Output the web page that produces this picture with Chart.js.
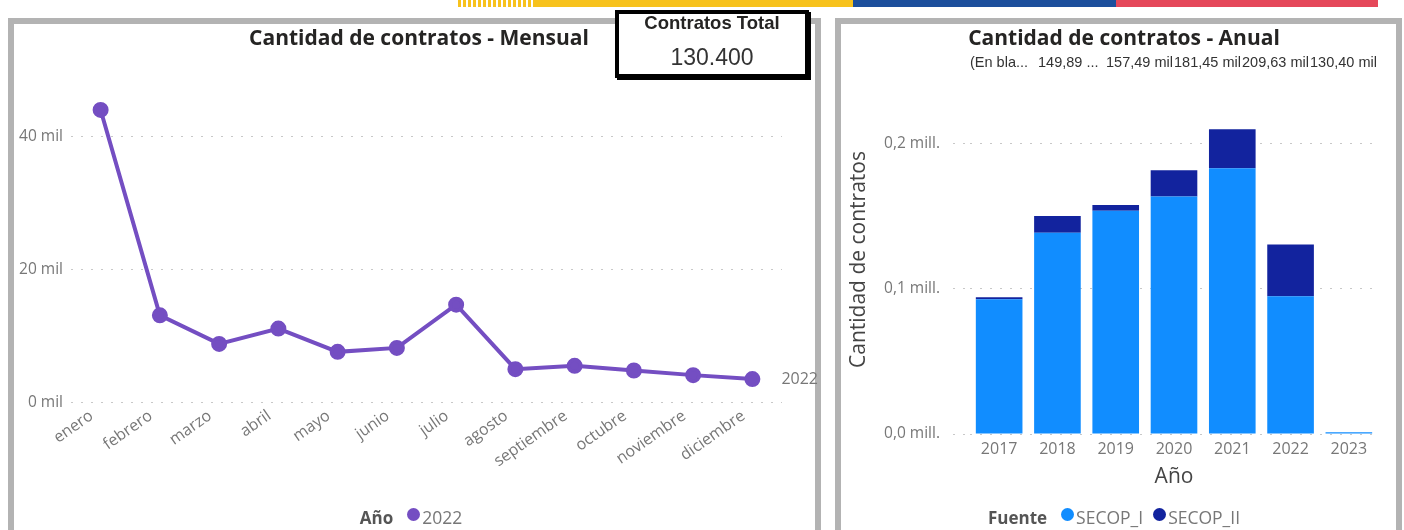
<!DOCTYPE html>
<html>
<head>
<meta charset="utf-8">
<script src="https://cdn.jsdelivr.net/npm/chart.js@4.4.0/dist/chart.umd.min.js"></script>
<style>
  body { margin: 0; width: 1404px; height: 530px; background: #fff; overflow: hidden; position: relative; font-family: 'Open Sans', sans-serif; }
  .bar { position: absolute; top: 0; height: 7px; }
  .panel { position: absolute; top: 18px; height: 530px; border: 6px solid #b3b3b3; border-bottom: none; box-sizing: border-box; }
  .card { position: absolute; left: 615px; top: 10px; width: 186px; height: 60px; border: 4px solid #000; box-shadow: 2px 2px 0 #000; background: #fff; text-align: center; font-family: 'Liberation Sans', Arial, sans-serif; color: #252423; }
  .card .t { font-weight: bold; font-size: 18.5px; margin-top: -2px; }
  .card .v { font-size: 23px; margin-top: 10px; color: #333; }
  .title { position: absolute; top: 23px; width: 500px; text-align: center; font-size: 21px; font-weight: bold; color: #252423; line-height: 28px; }
  canvas { position: absolute; }
  .legend { position: absolute; top: 506px; height: 22px; display: flex; justify-content: center; align-items: center; font-size: 17.5px; color: #777; }
  .legend b { color: #555; margin-right: 14px; font-size: 17px; }
  .legend i { display: inline-block; width: 13px; height: 13px; border-radius: 50%; margin-right: 2px; position: relative; top: -3px; }
  .legend span { margin-right: 10px; }
</style>
</head>
<body>
<div class="bar" style="left:458px;width:77px;background:repeating-linear-gradient(90deg,#f7c21d 0 3px,#fff 3px 5px);"></div>
<div class="bar" style="left:535px;width:318px;background:#f7c21d;"></div>
<div class="bar" style="left:853px;width:263px;background:#1c4f9c;"></div>
<div class="bar" style="left:1116px;width:262px;background:#e5485a;"></div>

<div class="panel" style="left:8px;width:813px;"></div>
<div class="panel" style="left:835px;width:567px;"></div>

<canvas id="mensual" width="804" height="507" style="left:14px;top:23px;"></canvas>
<canvas id="anual" width="556" height="507" style="left:841px;top:23px;"></canvas>

<div class="title" style="left:169px;">Cantidad de contratos - Mensual</div>
<div class="title" style="left:874px;">Cantidad de contratos - Anual</div>

<div class="legend" style="left:14px;width:804px;"><b>Año</b><i style="background:#744ec2"></i><span>2022</span></div>
<div class="legend" style="left:841px;width:556px;"><b>Fuente</b><i style="background:#118dff"></i><span>SECOP_I</span><i style="background:#12239e"></i><span>SECOP_II</span></div>

<div class="card"><div class="t">Contratos Total</div><div class="v">130.400</div></div>

<script>
var meses = ['enero', 'febrero', 'marzo', 'abril', 'mayo', 'junio', 'julio', 'agosto', 'septiembre', 'octubre', 'noviembre', 'diciembre'];
var contratos2022 = [44000, 13100, 8800, 11100, 7600, 8200, 14700, 5000, 5500, 4800, 4100, 3500];
var ticksMensual = [0, 20000, 40000];

var anios = ['2017', '2018', '2019', '2020', '2021', '2022', '2023'];
var secopI = [92700, 138400, 153600, 163300, 182700, 94800, 1200];
var secopII = [1400, 11500, 3900, 18150, 26930, 35600, 0];
var ticksAnual = [0, 100000, 200000];
var totalLabels = ['(En bla...', '149,89 ...', '157,49 mil', '181,45 mil', '209,63 mil', '130,40 mil'];

var gridStyle = { color: '#c8c8c8', lineWidth: 1 };

// label "2022" at the end of the line
var endLabel = {
  id: 'endLabel',
  afterDatasetsDraw: function (chart) {
    var pts = chart.getDatasetMeta(0).data;
    var last = pts[pts.length - 1];
    var ctx = chart.ctx;
    ctx.save();
    ctx.font = '16px Open Sans';
    ctx.fillStyle = '#777';
    ctx.textBaseline = 'middle';
    ctx.fillText(chart.data.datasets[0].label, last.x + 29, last.y);
    ctx.restore();
  }
};

// row of totals over the plot, one slot each
var totalsRow = {
  id: 'totalsRow',
  afterDraw: function (chart) {
    var a = chart.chartArea;
    var w = (a.right - a.left) / totalLabels.length;
    var ctx = chart.ctx;
    ctx.save();
    ctx.font = '14.5px Liberation Sans';
    ctx.fillStyle = '#333';
    ctx.textAlign = 'left';
    ctx.textBaseline = 'middle';
    totalLabels.forEach(function (t, i) {
      ctx.fillText(t, a.left + i * w, a.top - 22);
    });
    ctx.restore();
  }
};

function setTicks(list) {
  return function (s) {
    s.ticks = list.map(function (v) { return { value: v }; });
  };
}

new Chart(document.getElementById('mensual'), {
  type: 'line',
  data: {
    labels: meses,
    datasets: [{
      label: '2022',
      data: contratos2022,
      borderColor: '#744ec2',
      backgroundColor: '#744ec2',
      borderWidth: 4,
      pointRadius: 6,
      pointHoverRadius: 6,
      tension: 0
    }]
  },
  plugins: [endLabel],
  options: {
    responsive: false,
    animation: false,
    layout: { padding: { top: 67, left: 0, right: 36, bottom: 63 } },
    plugins: {
      legend: { display: false },
      tooltip: { enabled: false }
    },
    scales: {
      x: {
        offset: true,
        grid: { display: false },
        border: { display: false },
        ticks: { color: '#777', font: { family: 'Open Sans', size: 16 }, maxRotation: 35, minRotation: 35, padding: -4, labelOffset: -9 }
      },
      y: {
        min: 0,
        max: 47000,
        afterFit: function (s) { s.width = 57; },
        afterBuildTicks: setTicks(ticksMensual),
        grid: Object.assign({ drawTicks: false }, gridStyle),
        border: { display: false, dash: [2, 8] },
        ticks: { color: '#777', font: { family: 'Open Sans', size: 15.5 }, padding: 8, callback: function (v) { return (v / 1000) + ' mil'; } }
      }
    }
  }
});

new Chart(document.getElementById('anual'), {
  type: 'bar',
  data: {
    labels: anios,
    datasets: [{
      label: 'SECOP_I',
      data: secopI,
      backgroundColor: '#118dff',
      barPercentage: 0.8,
      categoryPercentage: 1
    }, {
      label: 'SECOP_II',
      data: secopII,
      backgroundColor: '#12239e',
      barPercentage: 0.8,
      categoryPercentage: 1
    }]
  },
  plugins: [totalsRow],
  options: {
    responsive: false,
    animation: false,
    layout: { padding: { top: 62, left: 3, right: 19, bottom: 40.6 } },
    plugins: {
      legend: { display: false },
      tooltip: { enabled: false }
    },
    scales: {
      x: {
        stacked: true,
        grid: { display: false },
        border: { display: false },
        ticks: { color: '#777', font: { family: 'Open Sans', size: 16 }, padding: -2 },
        title: { display: true, text: 'Año', color: '#444', font: { family: 'Open Sans', size: 21 }, padding: { top: 7, bottom: 0 } }
      },
      y: {
        stacked: true,
        min: 0,
        max: 240000,
        afterFit: function (s) { s.width = 126; },
        afterBuildTicks: setTicks(ticksAnual),
        grid: Object.assign({ tickLength: 17, tickColor: '#c8c8c8', tickBorderDash: [2, 8] }, gridStyle),
        border: { display: false, dash: [2, 8] },
        ticks: { color: '#777', font: { family: 'Open Sans', size: 15.5 }, padding: 13, callback: function (v) { return (v / 1000000).toFixed(1).replace('.', ',') + ' mill.'; } },
        title: { display: true, text: 'Cantidad de contratos', color: '#444', font: { family: 'Open Sans', size: 21 }, padding: { top: 2, bottom: 2 } }
      }
    }
  }
});
</script>
</body>
</html>
